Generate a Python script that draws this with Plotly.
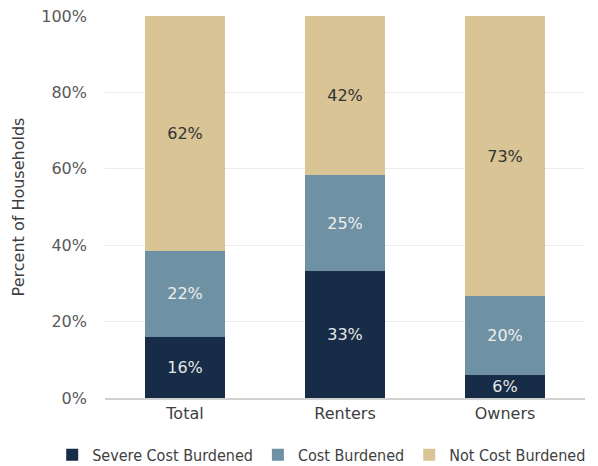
import plotly.graph_objects as go

categories = ["Total", "Renters", "Owners"]
severe = [16.05, 33.2, 6.1]
burdened = [22.4, 25.2, 20.5]
not_burdened = [61.55, 41.6, 73.4]
severe_labels = ["16%", "33%", "6%"]
burdened_labels = ["22%", "25%", "20%"]
not_burdened_labels = ["62%", "42%", "73%"]

font_family = "DejaVu Sans, sans-serif"
legend_family = "DejaVu Sans Condensed, DejaVu Sans, sans-serif"
fs = 16

fig = go.Figure()
fig.add_bar(x=categories, y=severe, name="Severe Cost Burdened",
            marker=dict(color="#172d47", line=dict(width=0)),
            text=severe_labels, textposition="inside", insidetextanchor="middle",
            textfont=dict(color="#e6e6e6", size=fs, family=font_family))
fig.add_bar(x=categories, y=burdened, name="Cost Burdened",
            marker=dict(color="#6e92a3", line=dict(width=0)),
            text=burdened_labels, textposition="inside", insidetextanchor="middle",
            textfont=dict(color="#eeeeee", size=fs, family=font_family))
fig.add_bar(x=categories, y=not_burdened, name="Not Cost Burdened",
            marker=dict(color="#d8c494", line=dict(width=0)),
            text=not_burdened_labels, textposition="inside", insidetextanchor="middle",
            textfont=dict(color="#333333", size=fs, family=font_family))

fig.update_layout(
    barmode="stack",
    bargap=0.5,
    width=598, height=466,
    margin=dict(l=97, r=21, t=8, b=76, autoexpand=False),
    paper_bgcolor="white", plot_bgcolor="white",
    font=dict(family=font_family, size=fs, color="#595959"),
    uniformtext=dict(mode="show", minsize=fs),
    legend=dict(orientation="h", x=-0.11, xanchor="left",
                y=-0.149, yanchor="middle",
                font=dict(size=fs, color="#404040", family=legend_family),
                traceorder="normal", itemwidth=30, tracegroupgap=0),
    showlegend=True,
)
fig.update_yaxes(range=[0, 100], tickvals=[0, 20, 40, 60, 80, 100],
                 ticktext=["0%", "20%", "40%", "60%", "80%", "100%"],
                 showgrid=True, gridcolor="#ececec", gridwidth=1,
                 zeroline=False, showline=False, ticks="", ticklen=0,
                 ticklabelstandoff=17, ticklabeloverflow="allow", automargin=False,
                 title=dict(text="Percent of Households", font=dict(size=fs, color="#404040"), standoff=12),
                 tickfont=dict(size=fs, color="#595959"))
fig.update_xaxes(showline=True, linecolor="#d0d0d0", linewidth=2, automargin=False,
                 ticks="", tickfont=dict(size=fs, color="#404040"), showgrid=False)

fig.write_html("out.html")
